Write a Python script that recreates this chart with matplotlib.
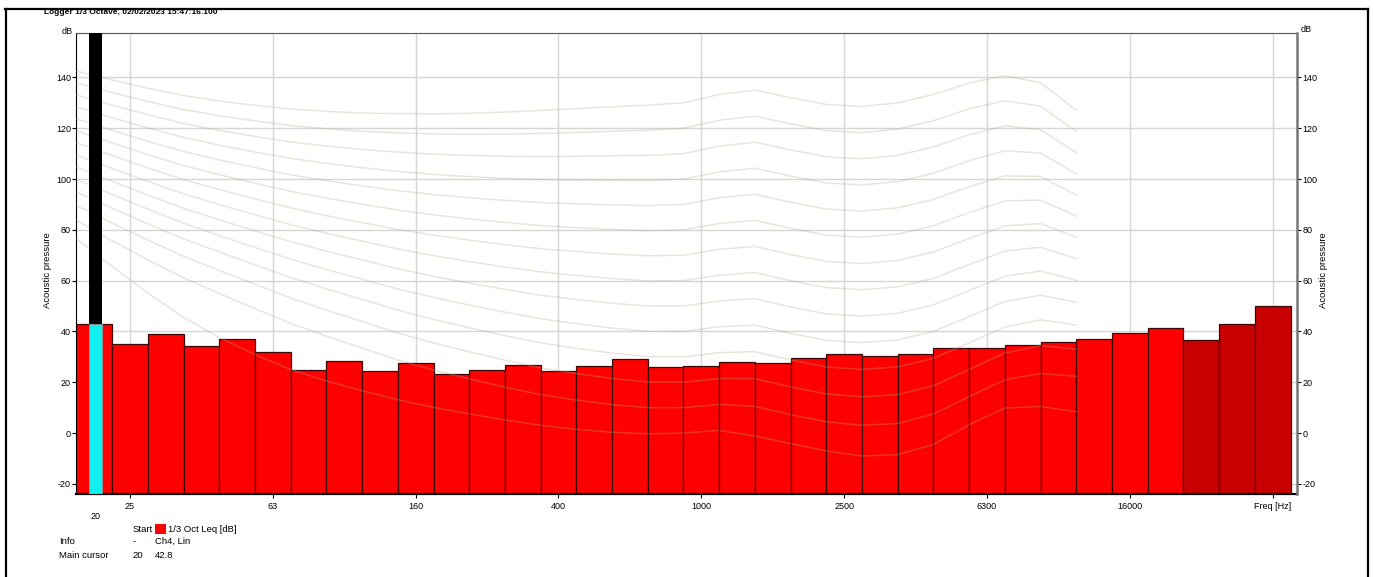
import numpy as np
import matplotlib.pyplot as plt
from matplotlib.lines import Line2D
from matplotlib.patches import Rectangle

W, H = 1374, 577

# 1/3 octave bands and measured Leq
bands = ['20', '25', '31.5', '40', '50', '63', '80', '100', '125', '160', '200', '250',
         '315', '400', '500', '630', '800', '1000', '1250', '1600', '2000', '2500', '3150',
         '4000', '5000', '6300', '8000', '10000', '12500', '16000', '20000', '25000',
         '31500', '40000']
leq = [42.8, 35.2, 38.9, 34.2, 37.2, 32.1, 25.0, 28.3, 24.3, 27.7, 23.3, 25.0,
       26.7, 24.5, 26.5, 29.0, 25.9, 26.2, 28.0, 27.7, 29.4, 31.3, 30.2,
       31.3, 33.4, 33.5, 34.7, 35.7, 37.2, 39.2, 41.5, 36.7,
       42.8, 49.9]
dark_from = '25000'

tick_labels = ['25', '63', '160', '400', '1000', '2500', '6300', '16000', 'Freq [Hz]']
tick_bands = ['25', '63', '160', '400', '1000', '2500', '6300', '16000', '40000']
y_ticks = [-20, 0, 20, 40, 60, 80, 100, 120, 140]

cursor_band = '20'
cursor_value = 42.8

# equal loudness contours, ISO 226:2003 table (20 Hz .. 12.5 kHz)
iso_af = [0.532, 0.506, 0.480, 0.455, 0.432, 0.409, 0.387, 0.367, 0.349, 0.330, 0.315,
          0.301, 0.288, 0.276, 0.267, 0.259, 0.253, 0.250, 0.246, 0.244, 0.243, 0.243,
          0.243, 0.242, 0.242, 0.245, 0.254, 0.271, 0.301]
iso_lu = [-31.6, -27.2, -23.0, -19.1, -15.9, -13.0, -10.3, -8.1, -6.2, -4.5, -3.1,
          -2.0, -1.1, -0.4, 0.0, 0.3, 0.5, 0.0, -2.7, -4.1, -1.0, 1.7,
          2.5, 1.2, -2.1, -7.1, -11.2, -10.7, -3.1]
iso_tf = [78.5, 68.7, 59.5, 51.1, 44.0, 37.5, 31.5, 26.5, 22.1, 17.9, 14.4,
          11.4, 8.6, 6.2, 4.4, 3.0, 2.2, 2.4, 3.5, 1.7, -1.3, -4.2,
          -6.0, -5.4, -1.5, 6.0, 12.6, 13.9, 12.3]
phon_levels = [0, 10, 20, 30, 40, 50, 60, 70, 80, 90, 100, 110, 120, 130]

Y_MIN, Y_MAX = -24.0, 157.5
X_MIN, X_MAX = -0.5, 33.68

plt.rcParams['font.family'] = ['Liberation Sans', 'DejaVu Sans']
plt.rcParams['axes.unicode_minus'] = False

fig = plt.figure(figsize=(W / 100, H / 100), dpi=100)
L, R, T, B = 76.4, 1297, 33, 494
ax = fig.add_axes([L / W, 1 - B / H, (R - L) / W, (B - T) / H])

x = np.arange(len(bands))
colors = ['#c80000' if i >= bands.index(dark_from) else '#ff0000' for i in x]
heights = np.array(leq) - Y_MIN
ax.bar(x, heights, bottom=Y_MIN, width=1.0, color=colors, edgecolor='#3c0808',
       linewidth=0.9, zorder=2)

# loudness contours (drawn on band lower edges)
af = np.array(iso_af)
lu = np.array(iso_lu)
tf = np.array(iso_tf)
cx = np.arange(len(iso_af)) - 0.5
for ph in phon_levels:
    Af = 4.47e-3 * (10 ** (0.025 * ph) - 1.15) + (0.4 * 10 ** ((tf + lu) / 10 - 9)) ** af
    lp = 10 / af * np.log10(Af) - lu + 94
    ax.plot(cx, lp, color='#b4ac8a', alpha=0.3, lw=1.1, zorder=3)

# cursor
ci = bands.index(cursor_band) + 0.04
ax.bar(ci, cursor_value - Y_MIN, bottom=Y_MIN, width=0.37, color='#10eeee',
       edgecolor='#8a9a9a', linewidth=0.6, zorder=4)
ax.bar(ci, Y_MAX + 10 - cursor_value, bottom=cursor_value, width=0.37, color='black',
       zorder=4)

ax.set_xlim(X_MIN, X_MAX)
ax.set_ylim(Y_MIN, Y_MAX)
ax.set_xticks([bands.index(b) for b in tick_bands])
ax.set_xticklabels(tick_labels)
ax.set_yticks(y_ticks)
ax.grid(True, color='#d6d6d6', lw=1.0, zorder=0)
ax.set_axisbelow(True)
ax.tick_params(axis='x', length=3, width=0.8, pad=3, labelsize=6.5, colors='black')
ax.tick_params(axis='y', length=3, width=0.8, pad=1, labelsize=6.5)
ax.spines['left'].set_color('black')
ax.spines['bottom'].set_linewidth(1.6)
ax.spines['top'].set_color('#555555')
ax.spines['right'].set_visible(False)

ax2 = ax.twinx()
ax2.set_ylim(Y_MIN, Y_MAX)
ax2.set_yticks(y_ticks)
ax2.tick_params(axis='y', length=3, width=0.8, pad=1, labelsize=6.5)
for s in ['left', 'top', 'bottom']:
    ax2.spines[s].set_visible(False)
ax2.spines['right'].set_color('#777777')
ax2.spines['right'].set_linewidth(1.8)


def px(xp, yp):
    return xp / W, 1 - yp / H


fig.text(*px(73, 31), 'dB', ha='right', va='center', fontsize=6.5)
fig.text(*px(1301, 30), 'dB', ha='left', va='center', fontsize=6.5)
fig.text(*px(47, 270), 'Acoustic pressure', rotation=90, ha='center', va='center', fontsize=6.8)
fig.text(*px(1323, 270), 'Acoustic pressure', rotation=90, ha='center', va='center', fontsize=6.8)
fig.text(*px(44, 13), 'Logger 1/3 Octave, 02/02/2023 15:47:16.100', ha='left', va='center',
         fontsize=6.0, fontweight='bold')
fig.text(*px(95.7, 516.7), '20', ha='center', va='center', fontsize=6.5)

# legend / info block
fig.text(*px(132.7, 529), 'Start', ha='left', va='center', fontsize=6.8)
fig.add_artist(Rectangle(px(155.3, 534.3), 10.4 / W, 10 / H, transform=fig.transFigure,
                         facecolor='#ff0000', edgecolor='none'))
fig.text(*px(168, 529), '1/3 Oct Leq [dB]', ha='left', va='center', fontsize=6.8)
fig.text(*px(59.3, 541.7), 'Info', ha='left', va='center', fontsize=6.8)
fig.text(*px(132.7, 541.7), '-', ha='left', va='center', fontsize=6.8)
fig.text(*px(154.7, 541.7), 'Ch4, Lin', ha='left', va='center', fontsize=6.8)
fig.text(*px(59.3, 555), 'Main cursor', ha='left', va='center', fontsize=6.8)
fig.text(*px(132.7, 555), '20', ha='left', va='center', fontsize=6.8)
fig.text(*px(154.7, 555), str(cursor_value), ha='left', va='center', fontsize=6.8)

# outer frame
for xs, ys in [((5, 1368), (9, 9)), ((5.5, 5.5), (9, 577)), ((1367.5, 1367.5), (9, 577))]:
    fig.add_artist(Line2D([xs[0] / W, xs[1] / W], [1 - ys[0] / H, 1 - ys[1] / H],
                          transform=fig.transFigure, color='black', lw=1.6))

fig.savefig('out.png', dpi=100)
